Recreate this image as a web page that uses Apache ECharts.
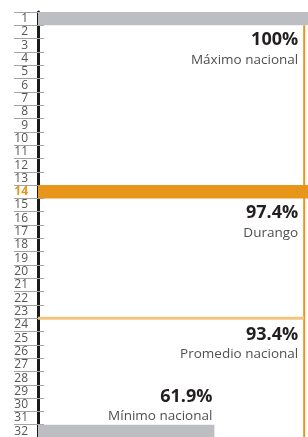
<!DOCTYPE html>
<html>
<head>
<meta charset="utf-8">
<script src="https://cdn.jsdelivr.net/npm/echarts@6/dist/echarts.min.js"></script>
<style>
  html, body { margin: 0; padding: 0; background: #fff; }
  #chart { width: 308px; height: 437px; }
</style>
</head>
<body>
<div id="chart"></div>
<script>
// filas (etiquetas del eje)
var rows = [];
for (var r = 1; r <= 32; r++) rows.push(String(r));
// valores de cada fila (solo 3 con barra)
var rowValues = [100, null, null, null, null, null, null, null, null, null, null, null, null, 97.4,
  null, null, null, null, null, null, null, null, null, null, null, null, null, null, null, null, null, 61.9];
var highlightRow = '14';
// anotaciones
var noteRows = ['1', '14', '32'];
var noteValues = [100, 97.4, 61.9];
var noteNames = ['Máximo nacional', 'Durango', 'Mínimo nacional'];
var averageRow = '23';
var averageValue = 93.4;
var averageName = 'Promedio nacional';

var GRAY = '#bdbec2';
var ORANGE = '#e8951c';
var LIGHT_ORANGE = '#f4c47e';
var FONT = 'Open Sans';

var chart = echarts.init(document.getElementById('chart'));

function pct(v) {
  return (v === 100 ? '100' : v.toFixed(1)) + '%';
}

// texto de las anotaciones (valor en negrita + nombre)
function noteText(x, y1, y2, v, name) {
  return [
    { type: 'text', style: { x: x, y: y1, text: pct(v), textAlign: 'right', textVerticalAlign: 'middle',
      font: 'bold 18px "' + FONT + '"', fill: '#231f20' } },
    { type: 'text', style: { x: x, y: y2, text: name, textAlign: 'right', textVerticalAlign: 'middle',
      font: '13.5px "' + FONT + '"', fill: '#505050' } }
  ];
}

var option = {
  animation: false,
  // el grafico original esta recortado a la derecha: la escala sigue mas alla del borde
  grid: { left: 38, width: 285, top: 12, height: 426, outerBoundsMode: 'none', containLabel: false },
  xAxis: { type: 'value', min: 0, max: 100, show: false },
  yAxis: [
    {
      type: 'category', data: rows, inverse: true,
      axisLine: { show: true, lineStyle: { color: '#1a1a1a', width: 3 } },
      axisTick: { show: true, interval: 0, length: 24, lineStyle: { color: '#a3a3a3', width: 1 } },
      axisLabel: {
        interval: 0, margin: 10, fontSize: 12, fontFamily: FONT, color: '#555',
        formatter: function (v) { return v === highlightRow ? '{hl|' + v + '}' : v; },
        rich: { hl: { color: ORANGE, fontWeight: 'bold', fontSize: 12, fontFamily: FONT } }
      }
    },
    {
      type: 'category', data: rows, inverse: true, position: 'left',
      axisLine: { show: false },
      axisTick: { show: true, interval: 0, inside: true, length: 6, lineStyle: { color: '#a3a3a3', width: 1 } },
      axisLabel: { show: false }
    }
  ],
  series: [
    {
      type: 'bar', yAxisIndex: 0, barWidth: '100%', z: 2,
      data: rowValues.map(function (v, i) {
        return { value: v, itemStyle: { color: rows[i] === highlightRow ? ORANGE : GRAY } };
      })
    },
    {
      // linea del promedio + linea vertical
      type: 'custom', yAxisIndex: 0, z: 1,
      data: [[averageValue, rows.indexOf(averageRow)]],
      renderItem: function (params, api) {
        var v = api.value(0), idx = api.value(1);
        var band = api.size([0, 1])[1];
        var p = api.coord([v, idx]);
        var x0 = api.coord([0, idx])[0];
        var y = p[1] + band / 2;
        var yTop = api.coord([v, 0])[1] + band / 2;
        var yBot = api.coord([v, rows.length - 1])[1] + band / 2;
        return {
          type: 'group',
          children: [
            { type: 'line', shape: { x1: p[0], y1: yTop, x2: p[0], y2: yBot }, style: { stroke: ORANGE, lineWidth: 2 } },
            { type: 'line', shape: { x1: x0, y1: y, x2: p[0], y2: y }, style: { stroke: LIGHT_ORANGE, lineWidth: 3 } }
          ].concat(noteText(p[0] - 6, y + 17, y + 36, v, averageName))
        };
      }
    },
    {
      // anotaciones de max, Durango y min
      type: 'custom', yAxisIndex: 0, z: 3,
      data: noteValues.map(function (v, i) { return [v, rows.indexOf(noteRows[i]), i]; }),
      renderItem: function (params, api) {
        var v = api.value(0), idx = api.value(1), i = api.value(2);
        var end = api.coord([Math.min(v, averageValue), idx]);
        var y = end[1];
        var x = v > averageValue ? end[0] - 6 : end[0] - 2;
        if (i === noteValues.length - 1) {
          return { type: 'group', children: noteText(x, y - 34, y - 15, v, noteNames[i]) };
        }
        return { type: 'group', children: noteText(x, y + 21, y + 41, v, noteNames[i]) };
      }
    }
  ]
};
chart.setOption(option);
</script>
</body>
</html>
